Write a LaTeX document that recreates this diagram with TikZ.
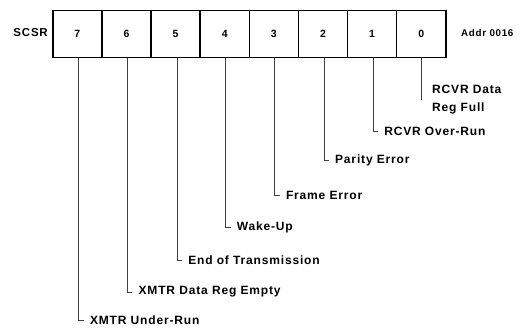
\documentclass[tikz,border=0pt]{standalone}
\usepackage{fontspec}
\setmainfont{Liberation Sans}[LetterSpace=7]
\begin{document}
\begin{tikzpicture}[x=1pt,y=-1pt,
  cell/.style={draw=black,line width=1.5pt,minimum width=49.125pt,minimum height=47pt,inner sep=0pt,anchor=north west,font=\fontsize{10.5}{12}\selectfont\bfseries},
  lead/.style={draw=black!75,line width=0.8pt},
  lbl/.style={anchor=west,inner sep=0pt,font=\fontsize{12}{18}\selectfont\bfseries,align=left},
  side/.style={inner sep=0pt,font=\fontsize{11.5}{12}\selectfont\bfseries}]
\useasboundingbox (0,0) rectangle (522,328);
\foreach \b [count=\j from 0] in {7,6,5,4,3,2,1,0}{
  \node[cell] (c\b) at ({52+49.125*\j},10) {\b};
}
\node[side,anchor=east] (scsr) at (48,33) {SCSR};
\node[side,anchor=west,font=\fontsize{9.8}{10}\selectfont\bfseries] (addr) at (461,33) {Addr 0016};
% bit 0
\coordinate (e0) at ([xshift=0pt]c0.south |- 0,100);
\draw[lead] (c0.south) -- (e0);
\node[lbl] (l0) at (432,100) {RCVR Data\\Reg Full};
% bits 1..7
\foreach \b/\y/\dx/\t in {1/131/1/RCVR Over-Run,2/160/1/Parity Error,3/195/1/Frame Error,4/227/1/Wake-Up,5/260/1.5/End of Transmission,6/292/1/XMTR Data Reg Empty,7/320/1.5/XMTR Under-Run}{
  \coordinate (s\b) at ([xshift=\dx pt]c\b.south);
  \coordinate (e\b) at (s\b |- 0,\y);
  \coordinate (t\b) at ([xshift=5pt]e\b);
  \draw[lead] (s\b) -- (e\b) -- (t\b);
  \node[lbl] (l\b) at ([xshift=6pt]t\b) {\t};
}
\end{tikzpicture}
\end{document}
